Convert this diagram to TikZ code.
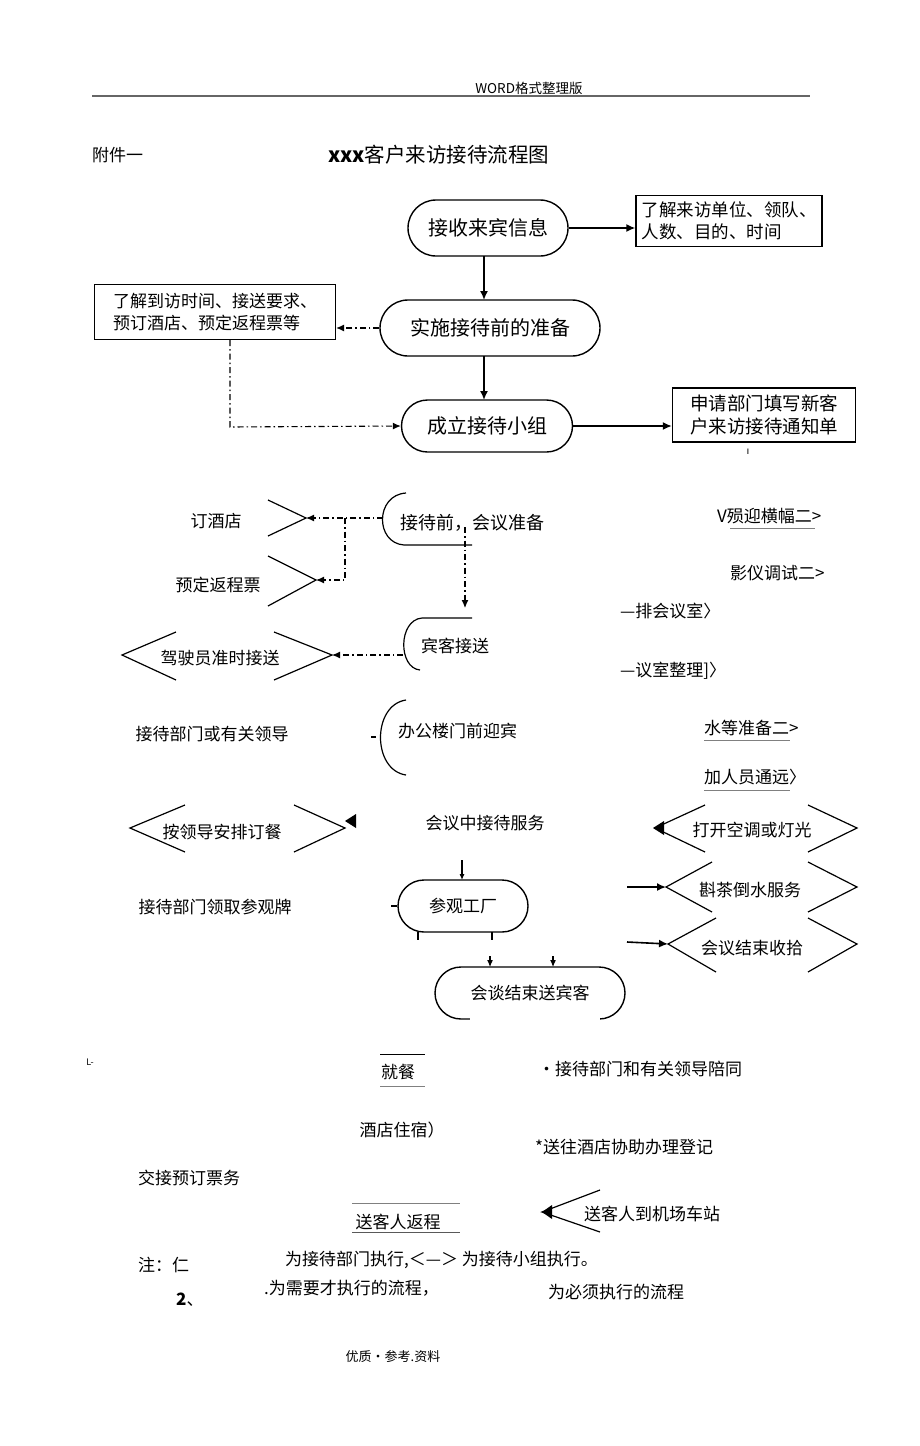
\documentclass[tikz,border=0pt]{standalone}
\usepackage{fontspec}
\setmainfont{Noto Sans CJK SC}
\newfontfamily\dejavu{DejaVu Sans}
\usetikzlibrary{arrows.meta,shapes.misc}
\tikzset{
  fs/.style={font=\fontsize{#1}{1.25\dimexpr#1pt\relax}\selectfont},
  lbl/.style={inner sep=0pt,fs=17},
  term/.style={rounded rectangle, draw, line width=1.4pt, inner sep=0pt, fs=20},
  box/.style={rectangle, draw, line width=1.3pt, inner sep=0pt, align=left},
  solidarrow/.style={line width=1.6pt, -{Latex[length=9pt,width=8pt]}},
  dd/.style={line width=1.1pt, dash pattern=on 6pt off 3pt on 1.5pt off 3pt},
  ddarrow/.style={dd, -{Latex[length=8pt,width=7pt]}},
  chev/.style={line width=1.2pt},
  ul/.style={draw=gray, line width=1pt},
}
\begin{document}
\begin{tikzpicture}[x=1pt,y=-1pt]
\useasboundingbox[fill=white] (0,0) rectangle (920,1446);

% header
\node[lbl,fs=13.5] (hdr) at (529,88) {WORD格式整理版};
\coordinate (hl) at (92,96); \coordinate (hr) at (810,96);
\draw[gray!80!black, line width=1.3pt] (hl) -- (hr);
\node[lbl,fs=17,anchor=west] (att) at (92,155) {附件一};
\node[lbl,fs=20.5,anchor=west] (title) at (328,155) {\textbf{xxx}客户来访接待流程图};

% top flow
\node[term, minimum width=160pt, minimum height=56pt] (t1) at (488,228) {接收来宾信息};
\node[box, minimum width=186pt, minimum height=51pt, fs=17.5] (b1) at (729,221) {了解来访单位、领队、\\人数、目的、时间};
\node[term, minimum width=220pt, minimum height=56pt] (t2) at (490,328) {实施接待前的准备};
\node[box, minimum width=241pt, minimum height=55pt, fs=17] (b2) at (215,312) {了解到访时间、接送要求、\\预订酒店、预定返程票等};
\node[term, minimum width=171pt, minimum height=52pt] (t3) at (487,426) {成立接待小组};
\node[box, minimum width=183pt, minimum height=54pt, fs=18.5] (b3) at (764,415) {申请部门填写新客\\户来访接待通知单};
\node[lbl,fs=9,font=\dejavu\fontsize{10}{11}\selectfont] (tick1) at (748,452) {ı};

\draw[solidarrow] (t1.east) -- (b1.west |- t1.east);
\draw[solidarrow] (484,256) -- (484,300);
\draw[solidarrow] (484,356) -- (484,400);
\draw[solidarrow] (t3.east) -- (b3.west |- t3.east);
\draw[ddarrow] (t2.west) -- (t2.west -| b2.east);
\coordinate (b2d) at (230,340);
\draw[ddarrow] (b2d) -- (230,427) -- (t3.west);

% ---- lower part ----
% 接待前 会议准备
\coordinate (p1t) at (406,493); \coordinate (p1b) at (404,545);
\draw[chev] (p1t) .. controls (375,495) and (375,543) .. (p1b) -- (472,545);
\node[lbl,anchor=west,fs=18] (prep) at (400,523) {接待前，会议准备};

% 订酒店
\node[lbl] (hotel) at (216,521) {订酒店};
\coordinate (c1) at (306,518);
\draw[chev] (268,500) -- (c1) -- (268,536);
\draw[ddarrow] (383,518) -- (c1);
% 预定返程票
\node[lbl] (ticket) at (218,585) {预定返程票};
\coordinate (c2) at (316,580);
\draw[chev] (268,556) -- (c2) -- (268,606);
\draw[ddarrow] (345,518) -- (345,580) -- (c2);
% down to 宾客接送
\coordinate (p2top) at (465,608);
\draw[ddarrow] (465,527) -- (p2top);

% 宾客接送
\coordinate (p2t) at (472,618); \coordinate (p2b) at (420,670);
\draw[chev] (p2t) -- (422,618) .. controls (398,620) and (398,668) .. (p2b);
\node[lbl] (pick) at (455,646) {宾客接送};
% 驾驶员准时接送
\node[lbl] (driver) at (220,658) {驾驶员准时接送};
\coordinate (c3) at (332,655);
\draw[chev] (274,632) -- (c3) -- (274,680);
\draw[chev] (176,632) -- (122,655) -- (176,680);
\draw[ddarrow] (403,655) -- (c3);

% right column texts
\node[lbl,anchor=west] (r1) at (717,516) {V殒迎横幅二>};
\draw[ul] (730,528) -- (815,528);
\node[lbl,anchor=west] (r2) at (730,573) {影仪调试二>};
\node[lbl,anchor=west] (r3) at (620,611) {—排会议室〉};
\node[lbl,anchor=west] (r4) at (620,671) {—议室整理]〉};
\node[lbl,anchor=west] (r5) at (704,728) {水等准备二>};
\draw[ul] (704,740) -- (790,740);
\node[lbl,anchor=west] (r6) at (704,777) {加人员通远〉};
\draw[ul] (704,790) -- (790,790);

% 办公楼门前迎宾
\coordinate (p3t) at (406,700); \coordinate (p3b) at (406,775);
\draw[chev] (p3t) .. controls (372,705) and (372,770) .. (p3b);
\draw[chev] (371,737) -- (376,737);
\node[lbl,anchor=west] (welcome) at (398,731) {办公楼门前迎宾};
\node[lbl] (leader) at (212,734) {接待部门或有关领导};

% 按领导安排订餐
\node[lbl] (meal) at (222,832) {按领导安排订餐};
\draw[chev] (185,805) -- (130,828) -- (185,852);
\draw[chev] (294,805) -- (345,828) -- (294,852);
\coordinate (m1) at (345,821);
\fill (m1) -- (356,814) -- (356,828) -- cycle;
\node[lbl] (mid) at (485,823) {会议中接待服务};

% right chevrons
\node[lbl] (ac) at (752,830) {打开空调或灯光};
\draw[chev] (705,805) -- (655,828) -- (705,852);
\draw[chev] (808,805) -- (857,828) -- (808,852);
\coordinate (a1) at (653,828);
\fill (a1) -- (664,821) -- (664,835) -- cycle;

\node[lbl] (tea) at (750,890) {斟茶倒水服务};
\coordinate (a2) at (666,887);
\draw[chev] (712,862) -- (a2) -- (712,912);
\draw[chev] (808,862) -- (857,887) -- (808,912);
\draw[solidarrow] (627,887) -- (a2);

\node[lbl] (clean) at (752,948) {会议结束收拾};
\coordinate (a3) at (668,944);
\draw[chev] (716,918) -- (a3) -- (716,972);
\draw[chev] (808,918) -- (857,944) -- (808,972);
\draw[solidarrow] (627,942) -- (a3);

% 参观工厂
\node[term, fs=17, minimum width=130pt, minimum height=52pt] (visit) at (463,906) {参观工厂};
\draw[line width=1.1pt, -{Latex[length=6pt,width=5pt]}] (462,860) -- (462,880);
\draw[chev] (391,906) -- (visit.west);
\draw[chev] (418,932) -- (418,940);
\draw[chev] (492,932) -- (492,940);
\node[lbl] (badge) at (215,907) {接待部门领取参观牌};

% 会谈结束送宾客
\node[term, fs=17, minimum width=190pt, minimum height=52pt] (end) at (530,993) {会谈结束送宾客};
\draw[line width=1.1pt, -{Latex[length=7pt,width=6pt]}] (490,956) -- (490,967);
\draw[line width=1.1pt, -{Latex[length=7pt,width=6pt]}] (553,956) -- (553,967);
\fill[white] (470,1012) rectangle (600,1021);

% bottom section
\node[lbl,fs=9] (lmark) at (90,1062) {L-};
\node[lbl] (dine) at (398,1072) {就餐};
\draw[chev, line width=0.8pt] (380,1054) -- (425,1054);
\draw[ul] (380,1086) -- (425,1086);
\node[lbl,anchor=west] (acc) at (538,1069) {•接待部门和有关领导陪同};
\node[lbl] (stay) at (402,1130) {酒店住宿）};
\node[lbl,anchor=west] (reg) at (535,1147) {*送往酒店协助办理登记};
\node[lbl] (handover) at (189,1178) {交接预订票务};
\node[lbl] (ret) at (398,1222) {送客人返程};
\draw[ul] (352,1203) -- (460,1203);
\draw[ul, draw=gray!70!black] (352,1232) -- (460,1232);
\node[lbl] (airport) at (652,1214) {送客人到机场车站};
\coordinate (a4) at (542,1212);
\draw[chev] (600,1190) -- (a4) -- (600,1232);
\fill (a4) -- (552,1205) -- (552,1219) -- cycle;

% notes
\node[lbl,anchor=west] (note) at (138,1265) {注：仁};
\node[lbl,anchor=west] (n1) at (285,1260) {为接待部门执行,＜—＞ 为接待小组执行。};
\node[lbl,anchor=west] (n2) at (176,1300) {\textbf{2}、};
\node[lbl,anchor=west] (n3) at (264,1288) {.为需要才执行的流程，};
\node[lbl,anchor=west] (n4) at (548,1292) {为必须执行的流程};
\node[lbl,fs=13] (footer) at (393,1357) {优质•参考.资料};
\end{tikzpicture}
\end{document}
